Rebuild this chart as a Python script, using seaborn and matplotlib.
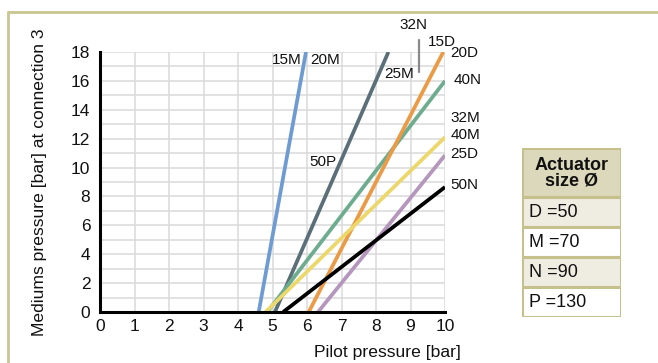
import numpy as np
import pandas as pd
import matplotlib
matplotlib.use("Agg")
import matplotlib.pyplot as plt
from matplotlib.patches import Rectangle
from matplotlib.lines import Line2D
import seaborn as sns

# Characteristic lines: medium pressure rises from zero at the opening point
series = ["blue", "slate", "green", "orange", "yellow", "purple", "black"]
pilot_start = [4.6, 5.07, 4.85, 6.05, 4.8, 6.32, 5.31]
pilot_end = [5.97, 8.36, 10.0, 9.95, 10.0, 10.0, 10.0]
medium_start = [0, 0, 0, 0, 0, 0, 0]
medium_end = [18.0, 18.0, 16.0, 18.0, 12.1, 10.85, 8.65]

line_labels = ["15M", "20M", "50P", "25M", "32N", "15D", "20D", "40N",
               "32M", "40M", "25D", "50N"]
table_rows = ["D =50", "M =70", "N =90", "P =130"]

palette = {
    "blue": "#6f9bd3",
    "slate": "#5b6f79",
    "green": "#6dac8f",
    "orange": "#eb9a45",
    "yellow": "#ecd76b",
    "purple": "#b596bd",
    "black": "#000000",
}

df = pd.DataFrame({
    "series": series * 2,
    "pilot": pilot_start + pilot_end,
    "medium": medium_start + medium_end,
})

sns.set_theme(style="white")
plt.rcParams["font.family"] = ["Liberation Sans", "DejaVu Sans"]

W, H = 658, 363
fig = plt.figure(figsize=(W / 100, H / 100), dpi=100)
ax = fig.add_axes([100 / W, 51 / H, 345 / W, 260 / H])

sns.lineplot(data=df, x="pilot", y="medium", hue="series", palette=palette,
             hue_order=series, legend=False, linewidth=2.7, ax=ax,
             solid_capstyle="butt", zorder=3)

ax.set_xlim(0, 10)
ax.set_ylim(0, 18)
ax.set_xticks(np.arange(0, 11, 1))
ax.set_yticks(np.arange(0, 19, 2))
ax.set_yticks(np.arange(1, 18, 2), minor=True)
ax.grid(True, which="both", color="#dadada", linewidth=1.1, zorder=0)
ax.set_axisbelow(True)

for s in ["top", "right"]:
    ax.spines[s].set_visible(False)
for s in ["left", "bottom"]:
    ax.spines[s].set_color("black")
    ax.spines[s].set_linewidth(2.2)
    ax.spines[s].set_zorder(5)

ax.tick_params(axis="both", which="both", direction="in", color="black",
               width=1.0, labelsize=12.5, labelcolor="#111111")
ax.tick_params(axis="x", which="major", length=4, pad=5)
ax.tick_params(axis="y", which="major", length=4, pad=7)
ax.tick_params(axis="y", which="minor", length=4)

ax.set_xlabel("Pilot pressure [bar]", fontsize=12.6, color="#111111",
              ha="center", va="center")
ax.set_ylabel("Mediums pressure [bar] at connection 3", fontsize=12.6,
              color="#111111", ha="center", va="center")
ax.xaxis.set_label_coords(0.832, -0.157)
ax.yaxis.set_label_coords(-0.174, 0.5)

# Line designations
label_pos = [
    (5.41, 17.45, "center"), (6.52, 17.45, "center"), (6.47, 10.4, "center"),
    (8.68, 16.5, "center"), (9.1, 19.9, "center"), (9.9, 18.7, "center"),
    (10.15, 17.9, "left"), (10.25, 16.05, "left"), (10.15, 13.4, "left"),
    (10.15, 12.26, "left"), (10.15, 10.94, "left"), (10.15, 8.8, "left"),
]
for txt, (x, y, ha) in zip(line_labels, label_pos):
    ax.text(x, y, txt, fontsize=11, ha=ha, va="center", color="#111111",
            clip_on=False, zorder=6)

# Leader mark beside the 25M label
ax.add_line(Line2D([9.25, 9.25], [16.6, 18.8], color="#8a8a8a", lw=1.6,
                   clip_on=False, zorder=6))

# Outer frame
frame_col = "#c9c692"
fig.add_artist(Line2D([8 / W, 1], [1 - 12 / H, 1 - 12 / H], color=frame_col,
                      lw=2.0, transform=fig.transFigure))
fig.add_artist(Line2D([8 / W, 8 / W], [0, 1 - 12 / H], color=frame_col,
                      lw=2.0, transform=fig.transFigure))

# Actuator size table
tx0, ty0, tx1, ty1 = 522, 148, 621, 317
tax = fig.add_axes([tx0 / W, 1 - ty1 / H, (tx1 - tx0) / W, (ty1 - ty0) / H])
tax.set_xlim(0, tx1 - tx0)
tax.set_ylim(ty1 - ty0, 0)
tax.axis("off")
tw = tx1 - tx0
border = "#c6c18c"
head_h = 49
row_h = (ty1 - ty0 - head_h) / 4
tax.add_patch(Rectangle((0, 0), tw, head_h, facecolor="#dcd8bb",
                        edgecolor=border, lw=2.2))
tax.text(tw / 2, head_h / 2 + 0.5, "Actuator\nsize Ø", ha="center",
         va="center", fontsize=13, fontweight="bold", color="#111111",
         linespacing=0.9)
row_bg = ["#efede2", "#ffffff", "#efede2", "#ffffff"]
for i, (txt, bg) in enumerate(zip(table_rows, row_bg)):
    y0 = head_h + i * row_h
    tax.add_patch(Rectangle((0, y0), tw, row_h, facecolor=bg,
                            edgecolor=border, lw=2.2))
    tax.text(7, y0 + row_h / 2 + 0.5, txt, ha="left", va="center",
             fontsize=13, color="#111111")

fig.savefig("out.png", dpi=100)
